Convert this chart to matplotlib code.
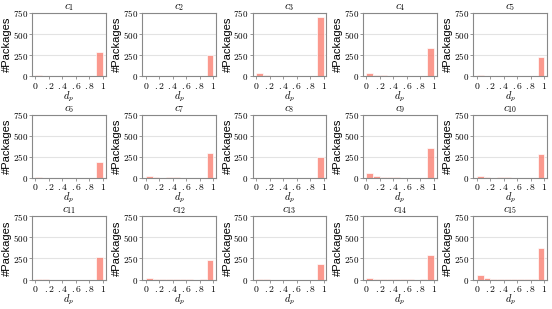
import matplotlib
matplotlib.use("Agg")
import matplotlib.pyplot as plt
import numpy as np

plt.rcParams['mathtext.fontset'] = 'cm'
plt.rcParams['font.family'] = ['Liberation Sans', 'DejaVu Sans']

# counts per d_p bin (10 bins of width 0.1), one list per cluster c1..c15
c1 = [20, 10, 5, 8, 8, 3, 2, 2, 5, 290]
c2 = [5, 5, 2, 2, 5, 1, 1, 1, 2, 255]
c3 = [40, 20, 10, 8, 8, 3, 5, 5, 5, 700]
c4 = [45, 20, 12, 10, 10, 3, 10, 3, 3, 340]
c5 = [20, 8, 8, 8, 8, 5, 5, 3, 3, 230]
c6 = [8, 2, 1, 1, 2, 1, 1, 1, 1, 185]
c7 = [20, 8, 5, 8, 8, 3, 3, 3, 5, 300]
c8 = [5, 5, 2, 2, 5, 2, 2, 1, 2, 250]
c9 = [60, 25, 12, 15, 12, 5, 5, 3, 5, 350]
c10 = [20, 8, 5, 8, 8, 5, 3, 3, 5, 290]
c11 = [3, 2, 1, 1, 1, 1, 1, 1, 1, 265]
c12 = [15, 5, 3, 3, 3, 2, 2, 1, 2, 230]
c13 = [10, 3, 1, 1, 1, 1, 1, 1, 1, 190]
c14 = [25, 10, 5, 5, 5, 2, 2, 1, 2, 290]
c15 = [50, 20, 8, 8, 8, 3, 5, 2, 2, 370]

clusters = [c1, c2, c3, c4, c5, c6, c7, c8, c9, c10, c11, c12, c13, c14, c15]
bin_edges = np.linspace(0, 1, 11)
bin_centers = (bin_edges[:-1] + bin_edges[1:]) / 2

xticks = [0, 0.2, 0.4, 0.6, 0.8, 1]
xticklabels = ['$0$', '$.2$', '$.4$', '$.6$', '$.8$', '$1$']
yticks = [0, 250, 500, 750]
yticklabels = ['$0$', '$250$', '$500$', '$750$']

fig, axes = plt.subplots(3, 5, figsize=(5.52, 3.09), dpi=100)
fig.subplots_adjust(left=0.058, right=0.991, top=0.958, bottom=0.095,
                    wspace=0.5, hspace=0.6)

for i, ax in enumerate(axes.flat):
    ax.hist(bin_centers, bins=bin_edges, weights=clusters[i],
            color='salmon', alpha=0.8, edgecolor='white', linewidth=0.6,
            zorder=2)
    ax.set_xlim(-0.05, 1.04)
    ax.set_ylim(0, 750)
    ax.set_xticks(xticks)
    ax.set_xticklabels(xticklabels, fontsize=7)
    ax.set_yticks(yticks)
    ax.set_yticklabels(yticklabels, fontsize=6.5)
    ax.yaxis.grid(True, color='#e3e3e3', linewidth=0.8, zorder=0)
    ax.set_axisbelow(True)
    ax.tick_params(length=2, width=0.6, color='#888888', pad=1)
    for s in ax.spines.values():
        s.set_color('#888888')
        s.set_linewidth(0.8)
    ax.set_title('$c_{%d}$' % (i + 1), fontsize=8, pad=0.5)
    ax.set_xlabel('$d_p$', fontsize=7.5, labelpad=-1)
    ax.set_ylabel('#Packages', fontsize=8, labelpad=0.5)

fig.savefig('out.png', dpi=100)
